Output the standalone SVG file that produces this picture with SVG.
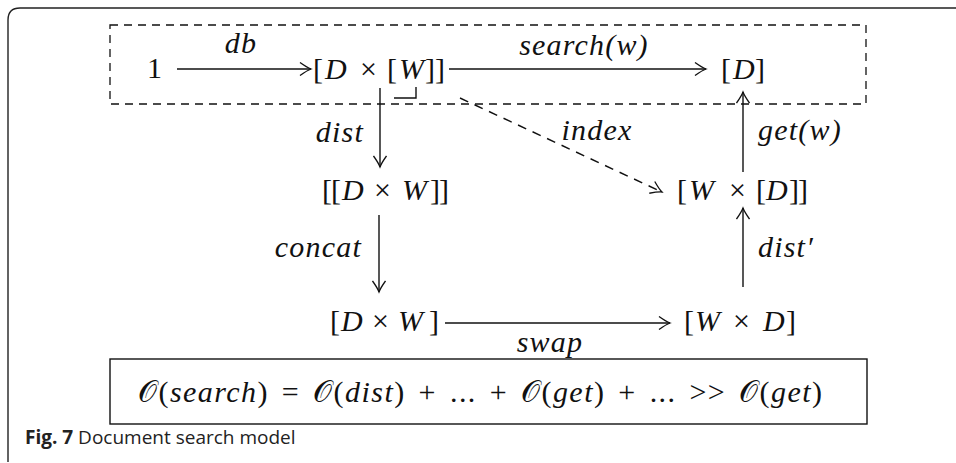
<svg xmlns="http://www.w3.org/2000/svg" width="956" height="463" viewBox="0 0 956 463">
<style>
text.m{font-family:'Liberation Serif',serif;font-size:30px;fill:#111}
.i{font-style:italic}
text.l{font-family:'Liberation Serif',serif;font-size:30px;font-style:italic;letter-spacing:1.2px;fill:#111}
.ln{stroke:#111;stroke-width:1.4;fill:none}
text.cap{font-family:'Open Sans','Noto Sans',sans-serif;font-size:19px;fill:#222}
</style>
<defs>
<marker id="ah" markerWidth="14" markerHeight="14" refX="0" refY="0" viewBox="-12 -7 14 14" orient="auto" markerUnits="userSpaceOnUse">
<path d="M -11 -6.5 Q -4 -1.5 0 0 Q -4 1.5 -11 6.5" stroke="#111" stroke-width="1.3" fill="none"/>
</marker>
</defs>
<rect width="956" height="463" fill="#fff"/>
<path d="M 8 462 L 8 20 Q 8 8 20 8 L 956 8" stroke="#222" stroke-width="1.4" fill="none"/>
<rect x="110" y="25" width="756" height="79" fill="none" stroke="#111" stroke-width="1.3" stroke-dasharray="8,6"/>

<g id="n-one"><text class="m" x="147" y="78">1</text></g>
<g id="n-db"><text class="m" y="79"><tspan x="313">[</tspan><tspan x="325" class="i">D</tspan><tspan x="360">×</tspan><tspan x="387">[</tspan><tspan x="399" class="i">W</tspan><tspan x="425">]</tspan><tspan x="435">]</tspan></text>
<path class="ln" d="M 394 98 L 416 98 L 416 87"/></g>
<g id="n-d"><text class="m" y="79"><tspan x="721">[</tspan><tspan x="733" class="i">D</tspan><tspan x="755">]</tspan></text></g>
<g id="n-ldw"><text class="m" y="200"><tspan x="322">[</tspan><tspan x="331">[</tspan><tspan x="342" class="i">D</tspan><tspan x="374">×</tspan><tspan x="402" class="i">W</tspan><tspan x="430">]</tspan><tspan x="439">]</tspan></text></g>
<g id="n-wld"><text class="m" y="200"><tspan x="677">[</tspan><tspan x="689" class="i">W</tspan><tspan x="729">×</tspan><tspan x="756">[</tspan><tspan x="766" class="i">D</tspan><tspan x="789">]</tspan><tspan x="798">]</tspan></text></g>
<g id="n-dw"><text class="m" y="331"><tspan x="330">[</tspan><tspan x="341" class="i">D</tspan><tspan x="372">×</tspan><tspan x="398" class="i">W</tspan><tspan x="429">]</tspan></text></g>
<g id="n-wd"><text class="m" y="331"><tspan x="684">[</tspan><tspan x="695" class="i">W</tspan><tspan x="733">×</tspan><tspan x="763" class="i">D</tspan><tspan x="786">]</tspan></text></g>

<g id="connectors">
<line class="ln" x1="177" y1="69" x2="311" y2="69" marker-end="url(#ah)"/>
<line class="ln" x1="449" y1="69" x2="706" y2="69" marker-end="url(#ah)"/>
<line class="ln" x1="380" y1="88" x2="380" y2="167" marker-end="url(#ah)"/>
<line class="ln" x1="460" y1="98" x2="662" y2="192" stroke-dasharray="9,7" marker-end="url(#ah)"/>
<line class="ln" x1="743" y1="172" x2="743" y2="92" marker-end="url(#ah)"/>
<line class="ln" x1="379" y1="215" x2="379" y2="292" marker-end="url(#ah)"/>
<line class="ln" x1="743" y1="287" x2="743" y2="208" marker-end="url(#ah)"/>
<line class="ln" x1="445" y1="323" x2="670" y2="323" marker-end="url(#ah)"/>
<text class="l" x="241" y="53" text-anchor="middle">db</text>
<text class="l" x="584" y="55" text-anchor="middle">search(w)</text>
<text class="l" x="364" y="142" text-anchor="end">dist</text>
<text class="l" x="597" y="140" text-anchor="middle">index</text>
<text class="l" x="758" y="140">get(w)</text>
<text class="l" x="362" y="257" text-anchor="end">concat</text>
<text class="l" x="758" y="257">dist′</text>
<text class="l" x="550" y="352" text-anchor="middle">swap</text>
</g>

<g id="formula">
<rect x="110" y="359" width="757" height="65" fill="none" stroke="#111" stroke-width="1.4"/>
<text class="m" x="138" y="402" font-size="31" word-spacing="4" textLength="684" lengthAdjust="spacing">𝒪(<tspan class="i">search</tspan>) = 𝒪(<tspan class="i">dist</tspan>) + ... + 𝒪(<tspan class="i">get</tspan>) + ... &gt;&gt; 𝒪(<tspan class="i">get</tspan>)</text>
</g>
<text class="cap" x="25" y="444"><tspan font-weight="bold">Fig. 7</tspan>  Document search model</text>
</svg>
